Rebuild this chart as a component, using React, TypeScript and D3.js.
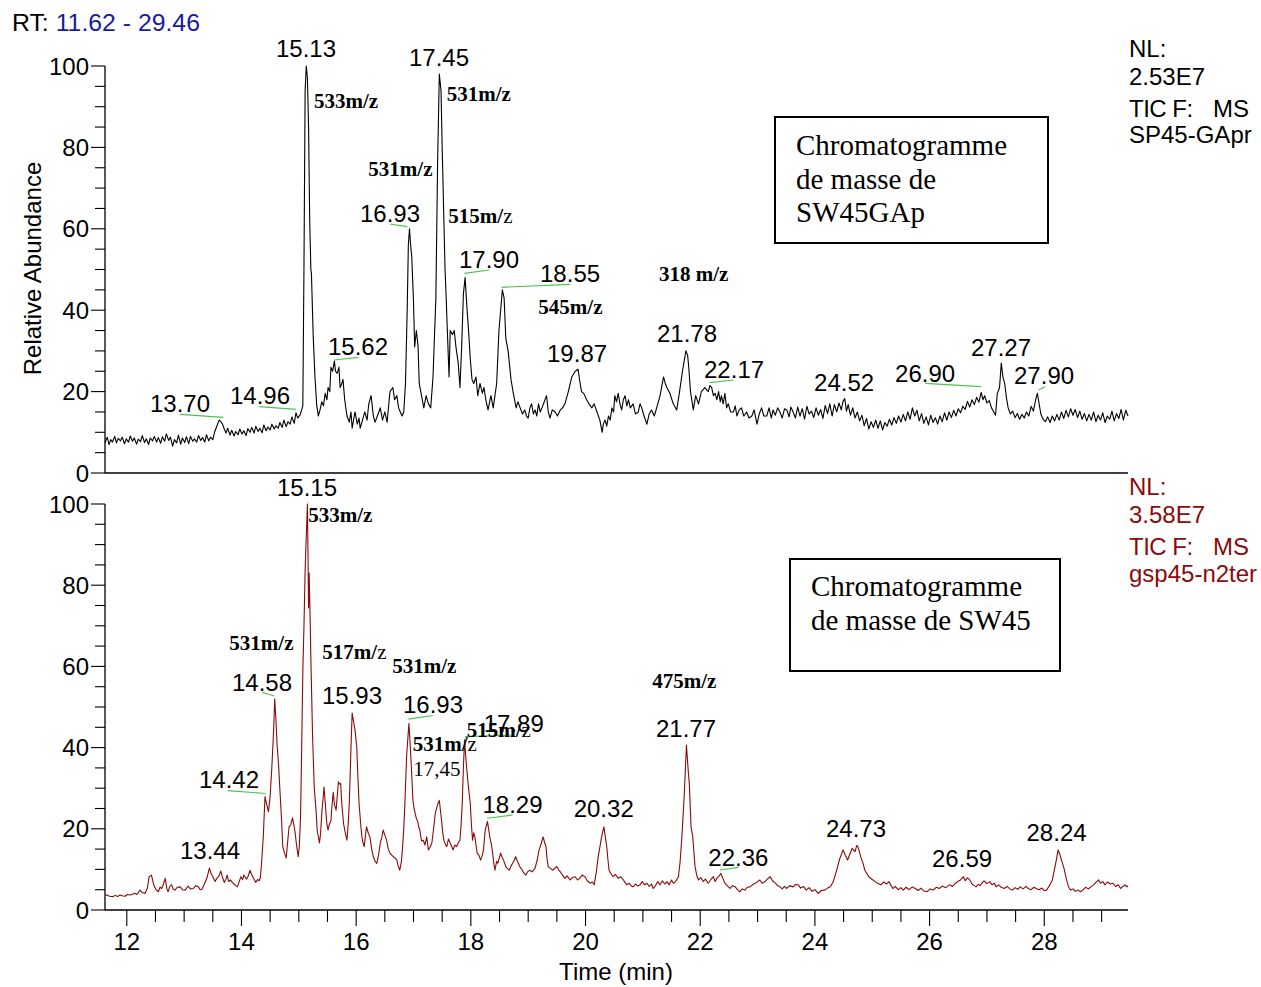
import React from 'react';
import * as d3 from 'd3';

// ---------- DATA (time in min, relative abundance in %) ----------
const topTrace: [number, number][] = [
[11.62,7.5],[11.66,8.8],[11.69,7.0],[11.72,8.2],[11.75,7.6],[11.79,9.0],[11.82,7.4],[11.85,8.5],[11.89,7.9],[11.92,8.8],[11.96,7.2],[11.99,8.4],[12.03,7.6],[12.06,9.1],[12.10,7.8],[12.13,8.6],[12.17,7.1],[12.20,8.3],[12.24,7.7],[12.27,9.2],[12.31,7.5],[12.34,8.4],[12.38,7.0],[12.41,8.6],[12.45,7.9],[12.48,9.0],[12.52,7.6],[12.55,8.7],[12.59,7.3],[12.62,8.9],[12.66,7.8],[12.69,9.6],[12.73,8.0],[12.76,8.8],[12.80,6.6],[12.83,8.2],[12.87,7.4],[12.90,9.3],[12.94,7.1],[12.97,8.6],[13.01,7.5],[13.04,8.9],[13.08,7.2],[13.11,9.0],[13.15,7.8],[13.18,8.4],[13.22,7.6],[13.25,9.2],[13.29,8.0],[13.32,8.7],[13.36,7.6],[13.39,9.4],[13.43,7.9],[13.46,8.8],[13.50,8.2],[13.53,10.0],[13.57,11.5],[13.61,13.0],[13.64,12.6],[13.67,12.0],[13.70,10.8],[13.73,9.8],[13.76,11.0],[13.80,9.3],[13.83,10.5],[13.87,9.1],[13.90,10.2],[13.94,9.4],[13.97,10.8],[14.01,9.6],[14.04,10.4],[14.08,9.2],[14.11,10.9],[14.15,10.0],[14.18,11.2],[14.22,9.8],[14.25,11.5],[14.29,10.2],[14.32,11.0],[14.36,9.9],[14.39,11.8],[14.43,10.4],[14.46,11.3],[14.50,10.6],[14.53,12.0],[14.57,10.8],[14.60,11.6],[14.64,11.0],[14.67,12.4],[14.71,11.2],[14.74,13.0],[14.78,11.4],[14.81,12.6],[14.85,12.0],[14.88,13.8],[14.92,12.2],[14.95,14.8],[14.98,13.5],[15.02,14.2],[15.05,15.5],[15.07,16.5],[15.09,51],[15.11,94],[15.13,100],[15.15,97],[15.17,85],[15.19,62],[15.21,50],[15.22,49],[15.25,34],[15.28,24],[15.31,17],[15.34,14],[15.37,15.5],[15.40,17.5],[15.43,16.5],[15.46,19.6],[15.49,18],[15.51,21],[15.54,20],[15.56,26],[15.59,25],[15.62,27.5],[15.64,25],[15.67,24.5],[15.70,26],[15.72,21],[15.75,22],[15.77,23],[15.80,18],[15.84,14],[15.88,12.5],[15.91,15],[15.93,11],[15.96,13.5],[15.98,15],[16.02,12],[16.05,13.5],[16.07,11],[16.11,13],[16.15,15],[16.19,13],[16.22,17],[16.26,19],[16.30,14],[16.33,12.5],[16.37,14],[16.42,16],[16.46,13],[16.50,15],[16.54,12.5],[16.57,17],[16.59,20],[16.64,21],[16.67,18],[16.71,19],[16.74,16],[16.77,15],[16.80,14],[16.83,15],[16.86,22],[16.89,40],[16.91,56],[16.93,60],[16.95,56],[16.97,53],[17.00,42],[17.02,31],[17.05,35],[17.08,31],[17.10,22],[17.14,19],[17.18,16],[17.22,19],[17.26,17],[17.30,16],[17.34,23.6],[17.39,43],[17.42,76],[17.45,98],[17.48,94],[17.50,80],[17.52,68],[17.55,50],[17.57,43],[17.59,35],[17.62,23.6],[17.64,35],[17.68,34],[17.71,35],[17.74,31],[17.78,27],[17.81,21],[17.84,31],[17.87,44],[17.90,48],[17.93,41],[17.96,35],[17.99,28],[18.02,23],[18.05,22],[18.09,23.6],[18.12,19],[18.16,22],[18.20,19.6],[18.23,21],[18.26,18],[18.30,15.5],[18.35,19],[18.39,16],[18.45,22],[18.49,35],[18.55,45],[18.58,43],[18.61,33],[18.65,30],[18.70,23],[18.74,19.6],[18.79,16],[18.82,17.5],[18.86,16],[18.90,14.5],[18.94,15.5],[18.97,14],[19.00,13.5],[19.03,16],[19.06,17],[19.09,14.5],[19.12,15.5],[19.15,14],[19.18,17],[19.21,15],[19.24,16],[19.28,17.5],[19.32,19],[19.35,15],[19.38,13.5],[19.42,15.5],[19.47,15],[19.51,14],[19.56,15.5],[19.60,16],[19.64,17],[19.70,20],[19.76,23.6],[19.82,25],[19.87,25.5],[19.90,22.5],[19.93,20],[19.97,19.5],[20.02,18],[20.06,17],[20.11,16],[20.15,17],[20.20,15],[20.25,13],[20.29,10],[20.31,12],[20.34,13],[20.37,11.5],[20.40,14],[20.43,13],[20.46,16],[20.49,15],[20.51,19],[20.54,17.5],[20.57,19.6],[20.60,17],[20.63,15.5],[20.66,18],[20.69,19],[20.72,16.5],[20.75,18],[20.78,16],[20.83,17],[20.87,14.5],[20.92,15],[20.95,17],[20.98,16],[21.02,14],[21.07,12],[21.11,14.5],[21.15,15.5],[21.20,14],[21.24,16],[21.30,19],[21.36,23.6],[21.39,22],[21.42,21],[21.47,19.6],[21.53,17],[21.59,15.5],[21.64,20],[21.69,25],[21.75,30],[21.78,29],[21.80,26],[21.83,20],[21.88,15.5],[21.92,19],[21.97,17],[22.02,20],[22.08,21],[22.14,20],[22.17,21.5],[22.20,21],[22.23,19],[22.26,19.6],[22.29,18],[22.32,20],[22.35,17.5],[22.37,19],[22.40,17],[22.43,19.6],[22.46,16],[22.49,17],[22.53,15],[22.58,15],[22.61,16.5],[22.64,14],[22.68,15.5],[22.72,16],[22.76,14],[22.81,15],[22.85,13.5],[22.90,14],[22.94,15.5],[22.99,12],[23.03,14.5],[23.07,16],[23.11,14],[23.16,14],[23.20,16],[23.24,13.5],[23.27,15.5],[23.31,14.2],[23.35,16],[23.39,15],[23.43,13.5],[23.47,15.8],[23.51,15.5],[23.55,13.8],[23.58,16.2],[23.62,15],
[23.66,13.5],[23.70,16.2],[23.74,14.0],[23.78,15.8],[23.82,13.2],[23.86,16.4],[23.90,14.5],[23.94,15.2],[23.98,13.6],[24.02,16.0],[24.06,14.2],[24.10,15.6],[24.14,13.4],[24.18,16.6],[24.22,14.6],[24.26,17.0],[24.30,14.0],[24.34,16.8],[24.38,15.0],[24.42,17.2],[24.46,15.5],[24.49,17.6],[24.52,18.3],[24.55,15.2],[24.58,16.8],[24.62,14.2],[24.66,16.0],[24.70,13.5],[24.74,15.0],[24.78,12.8],[24.82,14.2],[24.86,11.6],[24.90,13.4],[24.94,10.8],[24.98,12.6],[25.02,11.2],[25.06,13.0],[25.10,11.0],[25.14,12.8],[25.18,10.6],[25.22,12.4],[25.26,11.5],[25.30,13.2],[25.34,11.8],[25.38,13.6],[25.42,12.2],[25.46,14.0],[25.50,12.5],[25.54,14.4],[25.58,12.8],[25.62,15.0],[25.66,13.2],[25.70,16.0],[25.74,14.0],[25.78,15.4],[25.82,12.8],[25.86,14.6],[25.90,12.2],[25.94,13.8],[25.98,11.8],[26.02,14.2],[26.06,12.4],[26.10,13.6],[26.14,12.0],[26.18,14.0],[26.22,12.6],[26.26,14.8],[26.30,13.0],[26.34,15.0],[26.38,13.6],[26.42,15.4],[26.46,14.0],[26.50,15.8],[26.54,14.8],[26.58,16.4],[26.62,15.6],[26.66,17.6],[26.70,16.2],[26.74,18.0],[26.78,16.8],[26.82,18.6],[26.86,17.4],[26.90,19.8],[26.93,18.0],[26.96,19.0],[27.00,17.2],[27.04,17.8],[27.08,16.0],[27.12,15.0],[27.15,14.2],[27.18,19.5],[27.22,21.0],[27.25,27.0],[27.28,23.5],[27.31,22.0],[27.34,18.5],[27.37,16.0],[27.41,14.5],[27.45,15.2],[27.49,13.6],[27.53,14.6],[27.57,13.2],[27.61,14.4],[27.65,13.5],[27.69,15.0],[27.73,14.0],[27.77,16.4],[27.81,15.2],[27.85,18.0],[27.88,19.6],[27.91,17.0],[27.94,14.5],[27.98,13.2],[28.02,12.6],[28.06,13.8],[28.10,12.4],[28.14,14.0],[28.18,12.8],[28.22,14.4],[28.26,13.0],[28.30,15.0],[28.34,13.4],[28.38,15.4],[28.42,13.8],[28.46,15.8],[28.50,14.2],[28.54,15.6],[28.58,13.6],[28.62,15.2],[28.66,13.2],[28.70,14.6],[28.74,12.8],[28.78,14.4],[28.82,13.0],[28.86,15.0],[28.90,12.6],[28.94,14.2],[28.98,13.0],[29.02,14.8],[29.06,12.4],[29.10,14.0],[29.14,13.2],[29.18,15.2],[29.22,12.8],[29.26,14.6],[29.30,13.4],[29.34,15.6],[29.38,13.0],[29.42,15.4],[29.46,14.0]
];

const bottomTrace: [number, number][] = [
[11.62,3.6],[11.65,3.7],[11.70,3.4],[11.76,3.3],[11.80,3.6],[11.84,3.3],[11.88,3.7],[11.92,3.5],[11.97,3.4],[12.01,3.8],[12.06,3.7],[12.10,3.9],[12.14,4.1],[12.18,3.8],[12.23,4.9],[12.27,4.3],[12.32,4.1],[12.36,5.5],[12.39,8.2],[12.43,8.6],[12.47,6.2],[12.51,5.0],[12.55,4.5],[12.58,5.6],[12.61,5.3],[12.64,6.4],[12.67,7.8],[12.70,5.2],[12.72,4.5],[12.75,5.8],[12.78,6.2],[12.81,5.1],[12.84,4.9],[12.88,5.6],[12.93,5.7],[12.97,5.0],[13.02,4.9],[13.07,5.9],[13.11,5.2],[13.16,5.3],[13.20,6.0],[13.25,5.7],[13.28,5.0],[13.31,5.1],[13.36,6.6],[13.40,8.0],[13.44,10.3],[13.47,9.0],[13.50,8.2],[13.54,7.0],[13.57,7.8],[13.61,8.4],[13.64,9.6],[13.67,8.0],[13.70,6.8],[13.73,7.6],[13.75,8.6],[13.78,7.0],[13.81,7.4],[13.84,6.8],[13.87,6.4],[13.90,6.0],[13.93,5.7],[13.96,7.0],[13.99,8.2],[14.02,7.5],[14.04,8.6],[14.07,8.0],[14.09,7.6],[14.12,8.5],[14.15,9.8],[14.18,8.6],[14.21,7.8],[14.25,6.8],[14.28,7.5],[14.31,7.2],[14.33,8.0],[14.35,11.5],[14.38,18],[14.41,27.9],[14.44,26],[14.47,24.2],[14.50,28],[14.53,35.3],[14.56,44],[14.58,52],[14.60,47],[14.62,41],[14.65,35],[14.67,29.6],[14.70,22],[14.72,15.6],[14.75,14],[14.78,12.8],[14.80,16],[14.83,20.5],[14.86,21],[14.89,22.7],[14.93,19.7],[14.96,16],[14.99,13.1],[15.01,16],[15.03,23],[15.05,40],[15.07,59],[15.09,70],[15.11,83.7],[15.13,92],[15.15,100],[15.16,88],[15.17,74.4],[15.18,83],[15.20,70],[15.21,62],[15.24,42.6],[15.27,30],[15.30,24.6],[15.32,19.7],[15.36,16.5],[15.38,19],[15.40,23.8],[15.44,30.3],[15.47,24.6],[15.49,21],[15.51,19.7],[15.53,21],[15.56,22],[15.58,26],[15.60,29],[15.62,26],[15.65,24.6],[15.67,28],[15.69,31.6],[15.71,31],[15.73,31.2],[15.75,26],[15.78,21.3],[15.81,19],[15.84,17.2],[15.86,21],[15.88,26.3],[15.91,40],[15.93,48.5],[15.96,46],[15.98,44.3],[16.01,40.2],[16.03,33],[16.05,26.3],[16.08,21],[16.10,18],[16.12,16.5],[16.14,15.6],[16.16,18],[16.18,20.5],[16.21,19],[16.24,18],[16.27,15],[16.30,13.1],[16.33,12],[16.36,11.5],[16.39,13.5],[16.42,16.5],[16.45,18],[16.47,19.7],[16.50,18.5],[16.53,17.2],[16.56,15],[16.59,14],[16.62,13.5],[16.65,13.1],[16.68,12.8],[16.71,12.3],[16.73,11],[16.76,9.8],[16.79,12],[16.81,15.6],[16.83,20],[16.85,26.3],[16.88,38],[16.92,46],[16.95,38.7],[16.97,33],[16.99,27],[17.01,25],[17.03,23.8],[17.05,22.5],[17.07,22],[17.09,20.5],[17.11,19.7],[17.14,17],[17.17,17.2],[17.20,16],[17.23,18],[17.26,14.8],[17.29,15.5],[17.32,16.5],[17.35,20],[17.38,23.8],[17.42,26],[17.45,27],[17.47,24.5],[17.49,22],[17.51,19],[17.53,17.2],[17.56,16],[17.58,15.6],[17.61,17.5],[17.64,16.5],[17.67,15.5],[17.69,14.8],[17.72,16],[17.75,15.6],[17.78,16.5],[17.81,17.2],[17.83,21],[17.85,26.3],[17.87,35],[17.89,41.9],[17.91,38],[17.93,34.5],[17.96,30],[17.99,26.3],[18.01,21],[18.03,17.2],[18.05,19],[18.07,18],[18.09,16],[18.11,14],[18.14,13.5],[18.17,12.3],[18.20,13.5],[18.22,14.8],[18.25,19.7],[18.29,21.8],[18.31,20],[18.33,18],[18.36,16],[18.38,14],[18.40,11.5],[18.42,9.8],[18.45,12],[18.47,11.5],[18.50,13],[18.52,14],[18.55,12.8],[18.57,12.3],[18.59,11.5],[18.61,10.7],[18.64,10.2],[18.67,9.8],[18.70,10.8],[18.73,11.5],[18.76,12.4],[18.78,13.1],[18.81,12],[18.83,11.5],[18.86,10.5],[18.89,10],[18.92,9.2],[18.96,8.6],[18.99,9.4],[19.03,9.8],[19.07,9.4],[19.12,10.3],[19.16,12.5],[19.19,14.8],[19.23,16.5],[19.26,18],[19.29,16.5],[19.31,15.6],[19.33,12.5],[19.35,10.7],[19.39,10.2],[19.43,9.8],[19.47,10.4],[19.50,10.7],[19.53,9.9],[19.55,9.6],[19.60,8.6],[19.64,7.8],[19.68,8.4],[19.73,7.4],[19.77,8.0],[19.82,8.2],[19.86,7.4],[19.90,7.8],[19.94,8.6],[19.99,8.2],[20.03,7.2],[20.08,6.6],[20.12,6.9],[20.15,6.2],[20.19,9.5],[20.22,13.1],[20.25,15.5],[20.28,18],[20.32,20.5],[20.35,17.5],[20.37,15.6],[20.39,12.5],[20.41,9.8],[20.45,8.8],[20.48,8.2],[20.52,8.8],[20.57,7.8],[20.61,8.2],[20.66,7.4],[20.69,6.8],[20.72,6.2],[20.76,6.6],[20.80,5.9],[20.83,5.7],[20.87,6.4],[20.91,5.9],[20.95,6.2],[20.99,7.0],[21.03,6.2],[21.07,6.6],[21.11,5.8],[21.15,6.4],[21.18,5.3],[21.22,6.0],[21.26,7.0],[21.30,6.2],[21.34,7.2],[21.38,6.4],[21.42,7.0],[21.46,6.2],[21.50,7.4],[21.53,6.6],[21.57,7.0],[21.62,8.2],[21.65,12],[21.68,18],[21.72,27.9],[21.76,40.6],[21.79,34.5],[21.81,31],[21.84,20.5],[21.87,18],[21.91,10.7],[21.94,8.5],[21.97,7.4],[22.01,8.0],[22.05,7.0],[22.09,7.6],[22.14,6.6],[22.18,7.4],[22.23,8.2],[22.26,7.0],[22.29,7.8],[22.33,8.4],[22.36,9.0],[22.40,7.6],[22.43,6.6],[22.47,6.0],[22.52,5.3],[22.56,6.0],[22.61,5.7],[22.65,5.0],[22.69,4.5],[22.73,5.2],[22.78,4.9],[22.82,5.6],[22.87,5.7],[22.91,6.2],[22.96,6.6],[23.00,7.0],[23.04,7.4],[23.08,6.6],[23.13,7.0],[23.17,7.6],[23.22,8.2],[23.26,7.2],[23.31,6.6],[23.35,6.0],[23.39,5.7],[23.43,5.2],[23.47,5.8],[23.51,5.3],[23.56,6.0],[23.62,5.7],[23.66,6.3],[23.71,6.2],[23.75,5.4],[23.80,5.8],[23.85,4.9],[23.90,5.5],[23.95,4.6],[24.00,5.0],[24.06,4.1],[24.11,4.8],[24.17,4.9],[24.22,5.4],[24.27,5.7],[24.32,7.0],[24.38,9.8],[24.43,12.5],[24.49,14.8],[24.53,13.5],[24.57,12.3],[24.61,13.8],[24.65,15.2],[24.70,14.4],[24.73,15.9],[24.75,15.6],[24.80,13.1],[24.84,11.5],[24.87,9.8],[24.91,8.9],[24.94,8.2],[25.00,7.5],[25.05,7.0],[25.10,6.5],[25.15,6.2],[25.20,6.9],[25.25,6.4],[25.29,7.0],[25.33,6.0],[25.36,5.3],[25.40,5.8],[25.45,5.0],[25.50,5.5],[25.54,4.9],[25.59,5.6],[25.64,5.0],[25.70,5.7],[25.75,5.3],[25.80,4.8],[25.85,5.4],[25.90,4.7],[25.96,4.5],[26.01,5.2],[26.06,4.9],[26.12,5.6],[26.17,5.3],[26.22,5.9],[26.28,5.5],[26.35,6.2],[26.40,5.8],[26.45,6.6],[26.49,7.0],[26.54,7.4],[26.59,8.2],[26.62,7.2],[26.66,7.9],[26.70,7.4],[26.74,6.4],[26.78,6.0],[26.81,5.7],[26.85,6.3],[26.88,6.0],[26.91,6.6],[26.95,7.2],[27.00,6.5],[27.05,7.0],[27.09,6.2],[27.13,6.6],[27.16,5.7],[27.20,6.2],[27.25,5.6],[27.30,5.3],[27.35,5.8],[27.40,5.2],[27.44,4.9],[27.49,5.5],[27.54,5.1],[27.58,5.7],[27.63,5.2],[27.68,5.8],[27.72,5.3],[27.77,5.0],[27.82,5.6],[27.86,5.3],[27.91,5.0],[27.96,5.4],[28.00,4.8],[28.04,4.9],[28.08,5.8],[28.11,6.5],[28.14,7.4],[28.18,10.2],[28.21,12.3],[28.24,14.8],[28.27,13.8],[28.30,12.3],[28.34,10.5],[28.37,8.6],[28.39,7.4],[28.42,5.8],[28.46,4.9],[28.50,5.2],[28.54,4.6],[28.59,4.9],[28.63,4.5],[28.68,5.0],[28.72,5.6],[28.77,5.2],[28.81,5.7],[28.86,6.2],[28.90,6.8],[28.95,7.4],[28.98,6.6],[29.02,7.0],[29.06,6.2],[29.10,6.9],[29.15,6.4],[29.20,6.6],[29.24,5.8],[29.29,6.2],[29.33,5.3],[29.37,5.8],[29.41,6.2],[29.44,5.7],[29.46,6.0]
];

const timeDomain: [number, number] = [11.62, 29.46];
const yMajorTicks = [0, 20, 40, 60, 80, 100];
const xLabelTicks = [12, 14, 16, 18, 20, 22, 24, 26, 28];

// peak labels: text, time, abundance (text anchor point)
const topPeakLabels: [string, number, number][] = [
  ['15.13', 15.125, 102.2], ['17.45', 17.445, 100.0], ['16.93', 16.59, 61.7], ['17.90', 18.317, 50.4],
  ['18.55', 19.73, 46.9], ['15.62', 16.032, 29.0], ['13.70', 12.928, 15.0], ['14.96', 14.323, 17.0],
  ['19.87', 19.852, 27.3], ['21.78', 21.77, 32.2], ['22.17', 22.59, 23.3], ['24.52', 24.51, 20.1],
  ['26.90', 25.921, 22.4], ['27.27', 27.246, 28.7], ['27.90', 27.996, 21.8],
];
const bottomPeakLabels: [string, number, number][] = [
  ['15.15', 15.143, 102.0], ['14.58', 14.358, 54.0], ['15.93', 15.928, 50.7], ['16.93', 17.34, 48.5],
  ['14.42', 13.783, 30.0], ['13.44', 13.451, 12.6], ['17.89', 18.748, 43.9], ['18.29', 18.727, 23.9],
  ['20.32', 20.317, 23.0], ['21.77', 21.752, 42.7], ['22.36', 22.665, 10.8], ['24.73', 24.717, 18.1],
  ['26.59', 26.566, 10.7], ['28.24', 28.214, 17.1],
];
// green leader lines: t1, v1, t2, v2
const topLeaders: [number, number, number, number][] = [
  [12.928, 14.42, 13.683, 13.69], [14.311, 16.29, 14.951, 15.65], [16.59, 61.18, 16.892, 60.52],
  [15.614, 27.76, 16.038, 28.43], [17.886, 49.07, 18.322, 49.88], [18.538, 45.63, 19.73, 46.36],
  [22.159, 22.19, 22.577, 22.85], [25.921, 22.04, 26.897, 21.2], [27.896, 20.39, 28.013, 21.2],
];
const bottomLeaders: [number, number, number, number][] = [
  [14.363, 53.6, 14.573, 52.7], [13.76, 29.4, 14.423, 28.7], [16.91, 47.0, 17.335, 47.9],
  [17.898, 42.7, 18.735, 43.1], [18.287, 22.6, 18.73, 23.4], [22.345, 9.85, 22.665, 10.5],
];
// m/z annotations: bold part, regular part, time, abundance (left anchor)
const topMz: [string, string, number, number][] = [
  ['533m/z', '', 15.265, 89.7], ['531m/z', '', 17.579, 91.5], ['531m/z', '', 16.212, 73.0],
  ['515m/', 'z', 17.607, 61.5], ['545m/z', '', 19.177, 39.0], ['318 m/z', '', 21.282, 47.2],
];
const bottomMz: [string, string, number, number][] = [
  ['533m/z', '', 15.165, 95.6], ['531m/z', '', 13.788, 64.0], ['517m/', 'z', 15.41, 61.8],
  ['531m/z', '', 16.63, 58.4], ['531m/', 'z', 16.986, 39.2], ['', '17,45', 16.997, 33.0],
  ['515m/', 'z', 17.928, 42.7], ['475m/z', '', 21.163, 54.7],
];
const topBoxLines = ['Chromatogramme', 'de masse de', 'SW45GAp'];
const bottomBoxLines = ['Chromatogramme', 'de masse de SW45'];
const topInfo = ['NL:', '2.53E7', 'TIC F:', 'SP45-GApr'];
const bottomInfo = ['NL:', '3.58E7', 'TIC F:', 'gsp45-n2ter'];

const SANS = '"Liberation Sans", Arial, Helvetica, sans-serif';
const SERIF = '"Liberation Serif", "Times New Roman", serif';
const RED = '#8b0a0a';
const GREEN = '#4cc44c';

export default function App() {
  const x = d3.scaleLinear().domain(timeDomain).range([105, 1128]);
  const yTop = d3.scaleLinear().domain([0, 100]).range([473, 66]);
  const yBot = d3.scaleLinear().domain([0, 100]).range([910, 504]);
  const lineTop = d3.line<[number, number]>().x(d => x(d[0])).y(d => yTop(d[1]));
  const lineBot = d3.line<[number, number]>().x(d => x(d[0])).y(d => yBot(d[1]));
  const minorY = d3.range(0, 101, 5);
  const xTicks = d3.range(12, 29.46, 0.5);

  const yAxis = (y: d3.ScaleLinear<number, number>, key: string) => (
    <g key={key}>
      <line x1={105} x2={105} y1={y(100)} y2={y(0)} stroke="#000" strokeWidth={1.3} />
      {minorY.map(v => (
        <line key={v} x1={yMajorTicks.includes(v) ? 91 : 95} x2={105} y1={y(v)} y2={y(v)} stroke="#000" strokeWidth={1.1} />
      ))}
      {yMajorTicks.map(v => (
        <text key={'l' + v} x={89} y={y(v) + 8.6} textAnchor="end" fontFamily={SANS} fontSize={24} fill="#000">{v}</text>
      ))}
      <line x1={105} x2={1128} y1={y(0)} y2={y(0)} stroke="#000" strokeWidth={1.3} />
    </g>
  );

  const peakLabels = (labels: [string, number, number][], y: d3.ScaleLinear<number, number>) =>
    labels.map(([t, tm, v], i) => (
      <text key={i} x={x(tm)} y={y(v)} textAnchor="middle" fontFamily={SANS} fontSize={24} fill="#000">{t}</text>
    ));
  const leaders = (ls: [number, number, number, number][], y: d3.ScaleLinear<number, number>) =>
    ls.map(([t1, v1, t2, v2], i) => (
      <line key={i} x1={x(t1)} y1={y(v1)} x2={x(t2)} y2={y(v2)} stroke={GREEN} strokeWidth={1.2} />
    ));
  const mzLabels = (ls: [string, string, number, number][], y: d3.ScaleLinear<number, number>) =>
    ls.map(([b, r, tm, v], i) => (
      <text key={i} x={x(tm)} y={y(v)} fontFamily={SERIF} fontSize={21} fill="#000">
        {b && <tspan fontWeight="bold">{b}</tspan>}
        {r && <tspan>{r}</tspan>}
      </text>
    ));

  return (
    <svg width={1261} height={987} style={{ position: 'absolute', left: 0, top: 0, background: '#fff' }}>
      <rect x={0} y={0} width={1261} height={987} fill="#fff" />
      <text x={12} y={31} fontFamily={SANS} fontSize={24.8} fill="#000">
        RT: <tspan fill="#1a1aa0">11.62 - 29.46</tspan>
      </text>

      {/* top panel */}
      {yAxis(yTop, 'ya')}
      {leaders(topLeaders, yTop)}
      <path d={lineTop(topTrace) || ''} fill="none" stroke="#000" strokeWidth={1.1} strokeLinejoin="round" />
      {peakLabels(topPeakLabels, yTop)}
      {mzLabels(topMz, yTop)}
      <rect x={775} y={117} width={273} height={126} fill="none" stroke="#000" strokeWidth={2} />
      {topBoxLines.map((s, i) => (
        <text key={i} x={796} y={155 + i * 33.5} fontFamily={SERIF} fontSize={29} fill="#000">{s}</text>
      ))}
      <g fontFamily={SANS} fontSize={24} fill="#000">
        <text x={1129} y={57}>{topInfo[0]}</text>
        <text x={1129} y={85}>{topInfo[1]}</text>
        <text x={1129} y={117} letterSpacing={-0.5}>{topInfo[2]}</text>
        <text x={1213} y={117}>MS</text>
        <text x={1129} y={143}>{topInfo[3]}</text>
      </g>

      {/* bottom panel */}
      {yAxis(yBot, 'yb')}
      {xTicks.map(t => (
        <line key={t} x1={x(t)} x2={x(t)} y1={910} y2={t % 2 === 0 ? 926 : 922} stroke="#000" strokeWidth={1.1} />
      ))}
      {xLabelTicks.map(t => (
        <text key={'xl' + t} x={x(t)} y={950} textAnchor="middle" fontFamily={SANS} fontSize={24} fill="#000">{t}</text>
      ))}
      {leaders(bottomLeaders, yBot)}
      <path d={lineBot(bottomTrace) || ''} fill="none" stroke={RED} strokeWidth={1.1} strokeLinejoin="round" />
      {peakLabels(bottomPeakLabels, yBot)}
      {mzLabels(bottomMz, yBot)}
      <rect x={790} y={559} width={270} height={112} fill="none" stroke="#000" strokeWidth={2} />
      {bottomBoxLines.map((s, i) => (
        <text key={i} x={811} y={596 + i * 33.5} fontFamily={SERIF} fontSize={29} fill="#000">{s}</text>
      ))}
      <g fontFamily={SANS} fontSize={24} fill={RED}>
        <text x={1129} y={495}>{bottomInfo[0]}</text>
        <text x={1129} y={523}>{bottomInfo[1]}</text>
        <text x={1129} y={555} letterSpacing={-0.5}>{bottomInfo[2]}</text>
        <text x={1213} y={555}>MS</text>
        <text x={1129} y={582}>{bottomInfo[3]}</text>
      </g>

      <text transform="translate(40.5,268.5) rotate(-90)" textAnchor="middle" fontFamily={SANS} fontSize={24} fill="#000">Relative Abundance</text>
      <text x={616} y={980} textAnchor="middle" fontFamily={SANS} fontSize={24} fill="#000">Time (min)</text>
    </svg>
  );
}
